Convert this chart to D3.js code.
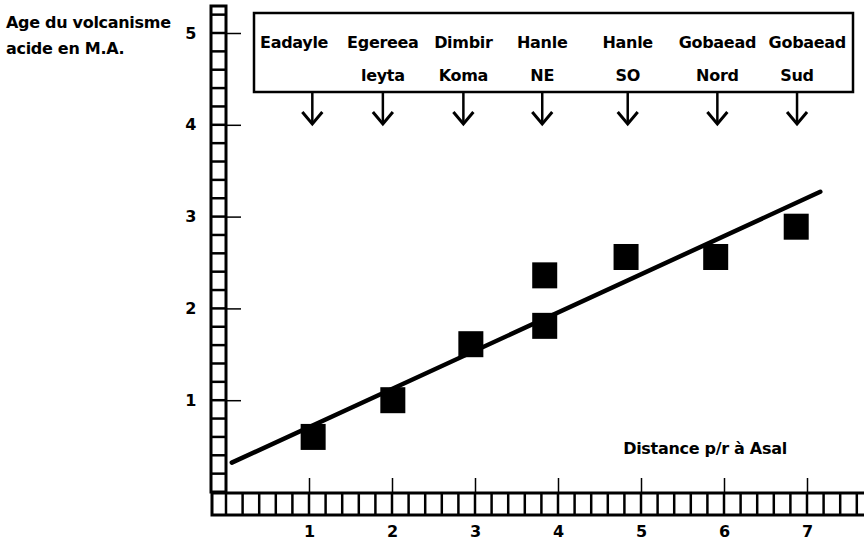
<!DOCTYPE html>
<html>
<head>
<meta charset="utf-8">
<script src="https://cdn.jsdelivr.net/npm/d3@7"></script>
<style>
  body { margin: 0; background: #fff; }
  text { font-family: "DejaVu Sans", sans-serif; font-weight: bold; font-size: 16px; letter-spacing: -0.3px; fill: #000; }
</style>
</head>
<body>
<svg id="chart" width="864" height="545"></svg>
<script>
// distance (p/r a Asal) and age (M.A.) of each sample
const sampleDistance = [1.05, 2.01, 2.95, 3.84, 3.84, 4.82, 5.90, 6.87];
const sampleAge = [0.60, 1.00, 1.61, 1.81, 2.36, 2.56, 2.56, 2.89];

// regression line end points
const fitDistance = [0.07, 7.16];
const fitAge = [0.32, 3.27];

// volcanic sites named in the box, with the distance the arrow points to
const siteNames = [
  ["Eadayle"], ["Egereea", "leyta"], ["Dimbir", "Koma"], ["Hanle", "NE"],
  ["Hanle", "SO"], ["Gobaead", "Nord"], ["Gobaead", "Sud"]
];
const siteDistance = [1.04, 1.89, 2.86, 3.81, 4.84, 5.92, 6.88];

const xTicks = [1, 2, 3, 4, 5, 6, 7];
const yTicks = [1, 2, 3, 4, 5];

/**
 * Draws the whole figure.
 */
function drawChart() {
  var svg = d3.select("#chart");

  var x = d3.scaleLinear().domain([0, 7]).range([226, 807]);
  var y = d3.scaleLinear().domain([0, 5]).range([492, 33]);

  // ladder style vertical axis
  var ladderW = 15;
  var yTop = 6;
  svg.append("rect")
    .attr("x", x(0) - ladderW).attr("y", yTop)
    .attr("width", ladderW).attr("height", y(0) - yTop)
    .attr("fill", "none").attr("stroke", "#000").attr("stroke-width", 3);
  var yRungs = d3.range(1, 27).map(function(i) { return i * 0.2; });
  svg.selectAll(".yrung")
    .data(yRungs)
    .enter().append("line")
    .attr("x1", x(0) - ladderW).attr("x2", x(0))
    .attr("y1", function(d) { return y(d); })
    .attr("y2", function(d) { return y(d); })
    .attr("stroke", "#000").attr("stroke-width", 2.5);

  // ladder style horizontal axis
  var xLadderTop = y(0) + 1;
  var xLadderH = 22;
  svg.append("rect")
    .attr("x", x(0) - 14).attr("y", xLadderTop)
    .attr("width", 864 - x(0) + 20).attr("height", xLadderH)
    .attr("fill", "none").attr("stroke", "#000").attr("stroke-width", 3);
  var xRungs = d3.range(0, 39).map(function(i) { return i * 0.2; });
  svg.selectAll(".xrung")
    .data(xRungs)
    .enter().append("line")
    .attr("x1", function(d) { return x(d); })
    .attr("x2", function(d) { return x(d); })
    .attr("y1", xLadderTop).attr("y2", xLadderTop + xLadderH)
    .attr("stroke", "#000").attr("stroke-width", 2.5);

  // tick marks and labels
  var xAxis = svg.append("g")
    .attr("transform", "translate(0," + xLadderTop + ")")
    .call(d3.axisBottom(x).tickValues(xTicks).tickSize(-15).tickPadding(33).tickFormat(d3.format("d")));
  var yAxis = svg.append("g")
    .attr("transform", "translate(" + x(0) + ",0)")
    .call(d3.axisLeft(y).tickValues(yTicks).tickSize(-15).tickPadding(30).tickFormat(d3.format("d")));
  [xAxis, yAxis].forEach(function(g) {
    g.select(".domain").remove();
    g.selectAll(".tick line").attr("stroke", "#000").attr("stroke-width", 1.5);
    g.selectAll(".tick text")
      .style("font-family", "DejaVu Sans, sans-serif")
      .style("font-weight", "bold")
      .style("font-size", "16px");
  });

  // regression line
  svg.append("line")
    .attr("x1", x(fitDistance[0])).attr("y1", y(fitAge[0]))
    .attr("x2", x(fitDistance[1])).attr("y2", y(fitAge[1]))
    .attr("stroke", "#000").attr("stroke-width", 4.5).attr("stroke-linecap", "round");

  // samples
  var sq = 25;
  svg.selectAll(".sample")
    .data(sampleAge)
    .enter().append("rect")
    .attr("class", "sample")
    .attr("x", function(d, i) { return x(sampleDistance[i]) - sq / 2; })
    .attr("y", function(d) { return y(d) - 13; })
    .attr("width", sq).attr("height", 26)
    .attr("fill", "#000");

  // site box
  var box = { left: 254, top: 13, right: 853, bottom: 92 };
  svg.append("rect")
    .attr("x", box.left).attr("y", box.top)
    .attr("width", box.right - box.left).attr("height", box.bottom - box.top)
    .attr("fill", "none").attr("stroke", "#000").attr("stroke-width", 2.5);

  var last = siteNames.length - 1;
  siteNames.forEach(function(lines, i) {
    var cx = x(siteDistance[i]);
    lines.forEach(function(t, j) {
      var txt = svg.append("text")
        .attr("y", j == 0 ? 48 : 81)
        .text(t);
      if (i == 0) {
        // first name sits against the left side of the box
        txt.attr("x", box.left + 6).attr("text-anchor", "start");
      } else if (i == last && j == 0) {
        // last name pushed against the right side
        txt.attr("x", box.right - 7).attr("text-anchor", "end");
      } else {
        txt.attr("x", cx).attr("text-anchor", "middle");
      }
    });

    // arrow down to the distance of the site
    svg.append("line")
      .attr("x1", cx).attr("x2", cx)
      .attr("y1", box.bottom).attr("y2", 124)
      .attr("stroke", "#000").attr("stroke-width", 2.5);
    svg.append("path")
      .attr("d", "M" + (cx - 10) + ",112 L" + cx + ",124 L" + (cx + 10) + ",112")
      .attr("fill", "none").attr("stroke", "#000").attr("stroke-width", 3);
  });

  // axis titles
  svg.append("text").attr("x", 6).attr("y", 28).text("Age du volcanisme");
  svg.append("text").attr("x", 6).attr("y", 54).text("acide en M.A.");
  svg.append("text").attr("x", 705).attr("y", 454)
    .attr("text-anchor", "middle").text("Distance p/r à Asal");
}

drawChart();
</script>
</body>
</html>
